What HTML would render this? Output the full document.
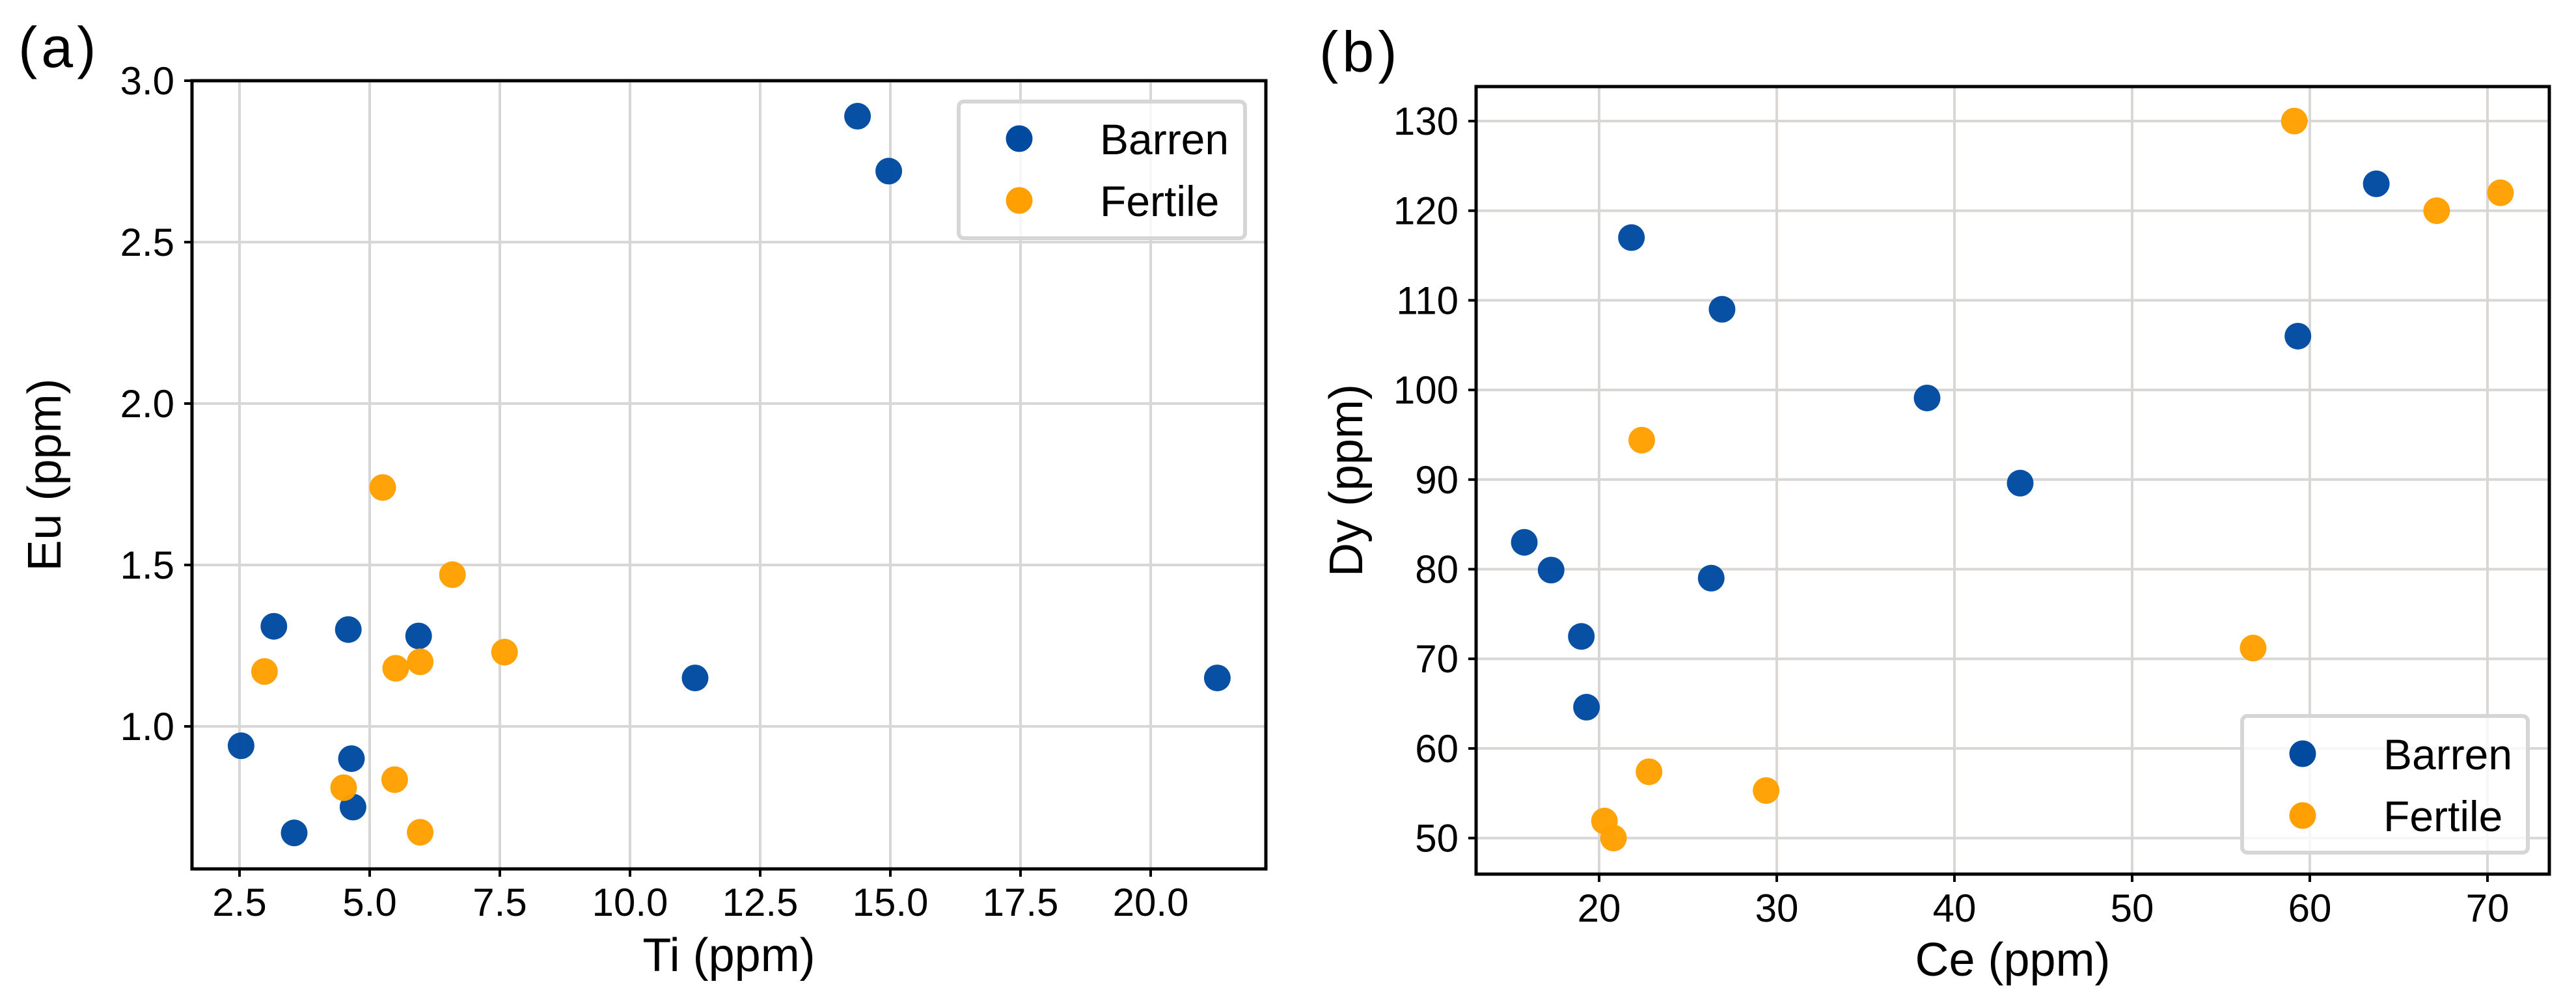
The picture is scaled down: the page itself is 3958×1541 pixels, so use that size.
<!DOCTYPE html>
<html><head><meta charset="utf-8">
<style>
html,body{margin:0;padding:0;background:#fff;}
svg{display:block;font-family:"Liberation Sans",Arial,sans-serif;}
</style></head>
<body>
<svg id="fig" width="3958" height="1541" viewBox="0 0 3958 1541" xmlns="http://www.w3.org/2000/svg">
<rect width="3958" height="1541" fill="#fff"/>
<text x="28" y="103" font-size="88" letter-spacing="6">(a)</text>
<text x="2027" y="110" font-size="88" letter-spacing="6">(b)</text>
<g id="plotA"></g>
<g id="plotB"></g>
</svg>
<script>
// Panel (a): Ti vs Eu
const aBarrenTi = [14.37, 14.97, 3.16, 4.59, 5.94, 2.53, 4.65, 4.68, 3.55, 11.25, 21.28];
const aBarrenEu = [2.89, 2.72, 1.31, 1.30, 1.28, 0.94, 0.90, 0.75, 0.67, 1.15, 1.15];
const aFertileTi = [5.25, 6.59, 2.98, 5.50, 5.97, 7.59, 4.50, 5.48, 5.97];
const aFertileEu = [1.74, 1.47, 1.17, 1.18, 1.20, 1.23, 0.81, 0.835, 0.672];
const aXTicks = [2.5, 5.0, 7.5, 10.0, 12.5, 15.0, 17.5, 20.0];
const aYTicks = [1.0, 1.5, 2.0, 2.5, 3.0];
// Panel (b): Ce vs Dy
const bBarrenCe = [38.46, 15.79, 17.30, 26.31, 19.0, 19.29, 21.82, 26.92, 63.74, 59.33, 43.7];
const bBarrenDy = [99.1, 83.0, 79.9, 79.0, 72.5, 64.6, 117.0, 109.0, 123.0, 106.0, 89.6];
const bFertileCe = [22.40, 22.81, 29.40, 20.30, 20.81, 59.13, 67.14, 70.73, 56.81];
const bFertileDy = [94.4, 57.4, 55.3, 51.9, 50.0, 130.0, 120.0, 122.0, 71.2];
const bXTicks = [20, 30, 40, 50, 60, 70];
const bYTicks = [50, 60, 70, 80, 90, 100, 110, 120, 130];

const NS = "http://www.w3.org/2000/svg";
const BLUE = "#004aa0", ORANGE = "#ffa000", GRID = "#d9d6d6";
function mk(tag, attrs, parent){const e=document.createElementNS(NS,tag);for(const k in attrs)e.setAttribute(k,attrs[k]);parent.appendChild(e);return e;}

function drawPanel(g, cfg){
  const sx = v => cfg.x0 + (v - cfg.xv0) * cfg.xk;
  const sy = v => cfg.y0 + (cfg.yv0 - v) * cfg.yk;
  const L=cfg.left,R=cfg.right,T=cfg.top,B=cfg.bottom;
  cfg.xTicks.forEach(t=>{
    const x=sx(t);
    const gl=mk("line",{x1:x,x2:x,y1:T,y2:B,stroke:GRID,"stroke-width":4},g);
    
    
    const tk=mk("line",{x1:x,x2:x,y1:B,y2:B+12,stroke:"#000","stroke-width":4},g);
    
    
    const tl=mk("text",{x:x,y:B+cfg.xLabelDy,"font-size":60,"text-anchor":"middle"},g);
    tl.textContent=cfg.xFmt(t);
    
    
  });
  cfg.yTicks.forEach(t=>{
    const y=sy(t);
    const gl=mk("line",{x1:L,x2:R,y1:y,y2:y,stroke:GRID,"stroke-width":4},g);
    
    
    const tk=mk("line",{x1:L-12,x2:L,y1:y,y2:y,stroke:"#000","stroke-width":4},g);
    
    
    const tl=mk("text",{x:L-27,y:y+21,"font-size":60,"text-anchor":"end"},g);
    tl.textContent=cfg.yFmt(t);
    
    
  });
  const series=[[cfg.bx,cfg.by,BLUE,'barren-point'],[cfg.fx,cfg.fy,ORANGE,'fertile-point']];
  series.forEach(s=>{
    s[0].forEach((xv,i)=>{
      const c=mk("circle",{cx:sx(xv),cy:sy(s[1][i]),r:20.5,fill:s[2],"fill-opacity":0.97},g);
      
      
    });
  });
  // legend
  const lg=cfg.legend;
  const lb=mk("rect",{x:lg.x,y:lg.y,width:lg.w,height:lg.h,rx:8,fill:"#fff","fill-opacity":0.8,stroke:"#d6d6d6","stroke-width":6},g);
  
  
  [["Barren",BLUE],["Fertile",ORANGE]].forEach((e,i)=>{
    const cy=lg.my0+i*lg.dy;
    const m=mk("circle",{cx:lg.mx,cy:cy,r:20.5,fill:e[1]},g);
    
    
    const t=mk("text",{x:lg.tx,y:cy+24,"font-size":66},g);
    t.textContent=e[0];
    
    
  });
  const fr=mk("rect",{x:L,y:T,width:R-L,height:B-T,fill:"none",stroke:"#000","stroke-width":5},g);
  
  
  const xt=mk("text",{x:(L+R)/2,y:cfg.xTitleY,"font-size":72,"text-anchor":"middle"},g);
  xt.textContent=cfg.xTitle;
  
  
  const yt=mk("text",{x:0,y:0,"font-size":72,"text-anchor":"middle",transform:`translate(${cfg.yTitleX},${(T+B)/2}) rotate(-90)`},g);
  yt.textContent=cfg.yTitle;
  
  
}

drawPanel(document.getElementById('plotA'),{
  left:295,right:1945,top:124,bottom:1335,
  x0:368,xv0:2.5,xk:80, y0:124,yv0:3.0,yk:496,
  xTicks:aXTicks,yTicks:aYTicks,xFmt:v=>v.toFixed(1),yFmt:v=>v.toFixed(1),
  bx:aBarrenTi,by:aBarrenEu,fx:aFertileTi,fy:aFertileEu,
  xLabelDy:72,xTitle:"Ti (ppm)",xTitleY:1492,yTitle:"Eu (ppm)",yTitleX:93,
  legend:{x:1473,y:156,w:440,h:210,mx:1566,my0:213,dy:95,tx:1690}
});
drawPanel(document.getElementById('plotB'),{
  left:2268,right:3917,top:133,bottom:1343,
  x0:2457,xv0:20,xk:27.3, y0:186,yv0:130,yk:13.77,
  xTicks:bXTicks,yTicks:bYTicks,xFmt:v=>String(v),yFmt:v=>String(v),
  bx:bBarrenCe,by:bBarrenDy,fx:bFertileCe,fy:bFertileDy,
  xLabelDy:73,xTitle:"Ce (ppm)",xTitleY:1499,yTitle:"Dy (ppm)",yTitleX:2093,
  legend:{x:3445,y:1100,w:439,h:210,mx:3538,my0:1158,dy:95,tx:3662}
});
</script>
</body></html>
